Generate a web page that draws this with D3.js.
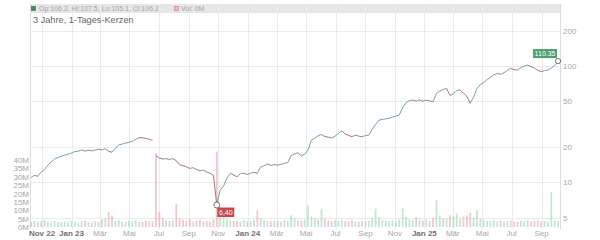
<!DOCTYPE html>
<html>
<head>
<meta charset="utf-8">
<script src="https://cdn.jsdelivr.net/npm/d3@7"></script>
<style>
  body { margin: 0; background: #fff; }
  svg { display: block; font-family: "Liberation Sans", Arial, sans-serif; }
</style>
</head>
<body>
<div id="chart"></div>
<script>
// weekly closes, first week starting 2022-10-09
const firstWeek = "2022-10-09";
const closes = [
  11.0, 11.5, 11.3, 12.3, 12.9, 14.1, 15.0, 15.9, 16.4, 16.8,
  17.2, 17.5, 17.9, 18.4, 18.6, 19.0, 18.6, 18.9, 18.7, 19.0,
  19.3, 19.0, 19.5, 18.5, 18.2, 19.8, 21.0, 21.4, 21.8, 22.1,
  22.6, 23.4, 24.3, 24.2, 23.9, 23.5, 23.0, 17.0, 16.2, 15.9,
  16.0, 15.8, 16.0, 15.4, 14.2, 13.9, 13.6, 13.2, 13.4, 12.9,
  12.6, 12.8, 12.3, 12.0, 11.5, 6.40, 8.6, 9.3, 10.9, 12.0,
  11.6, 11.2, 11.9, 12.0, 11.7, 12.0, 12.2, 12.0, 13.6, 13.9,
  14.4, 14.0, 14.2, 14.1, 14.3, 14.6, 14.8, 17.0, 17.6, 18.0,
  16.9, 17.5, 19.0, 23.1, 24.0, 25.2, 25.8, 24.8, 24.5, 24.1,
  25.0, 26.5, 27.8, 26.0, 25.4, 24.7, 25.5, 25.0, 24.7, 25.3,
  25.5, 28.5, 31.5, 34.3, 34.8, 35.2, 35.5, 36.5, 37.0, 37.9,
  44.0, 48.5, 50.5, 51.0, 50.0, 51.2, 49.8, 51.0, 50.2, 49.3,
  58.2, 61.0, 63.0, 64.3, 56.0, 57.5, 61.5, 62.2, 58.5, 55.0,
  47.8, 54.4, 64.0, 69.5, 72.0, 76.5, 80.0, 84.0, 86.5, 85.0,
  87.5, 92.0, 95.5, 93.0, 92.4, 97.0, 100.0, 102.0, 98.6, 96.0,
  92.0, 89.3, 91.5, 92.4, 96.0, 101.0, 110.35
];
// volume in millions, same weeks
const volumes = [
  3.2, 3.8, 2.9, 3.5, 4.2, 3.1, 2.8, 3.6, 3.0, 2.7,
  3.3, 2.9, 3.8, 3.1, 2.6, 3.4, 3.9, 3.0, 2.8, 3.5,
  3.2, 4.6, 5.2, 9.0, 6.8, 3.7, 4.1, 3.3, 3.0, 3.6,
  3.4, 4.0, 3.1, 2.9, 3.7, 3.2, 3.5, 44.0, 9.0, 5.5,
  4.2, 3.6, 4.0, 14.0, 5.0, 4.4, 3.8, 4.9, 3.5, 3.9,
  4.2, 3.3, 3.7, 3.1, 4.5, 45.0, 12.0, 6.5, 5.0, 4.3,
  3.6, 3.9, 3.2, 4.1, 3.4, 3.8, 4.6, 10.0, 5.2, 4.0,
  3.7, 3.3, 3.9, 3.5, 3.1, 4.2, 3.6, 7.0, 5.1, 4.0,
  3.8, 4.4, 13.0, 6.2, 5.0, 4.5, 11.0, 4.8, 3.9, 3.4,
  4.1, 3.6, 4.3, 3.5, 3.2, 4.0, 3.3, 3.0, 3.6, 3.2,
  3.8, 5.5, 11.0, 5.8, 4.2, 3.7, 3.4, 3.9, 3.2, 4.3,
  11.0, 6.0, 4.6, 4.0, 6.0, 4.4, 3.8, 4.5, 3.6, 5.5,
  16.0, 7.0, 5.2, 4.8, 7.0, 6.5, 8.0, 5.0, 6.2, 6.8,
  8.5, 5.5, 10.0, 5.0, 4.2, 3.8, 3.5, 4.0, 3.3, 3.7,
  3.1, 3.5, 3.9, 3.2, 3.0, 3.6, 3.3, 3.8, 3.1, 3.4,
  3.9, 3.2, 3.6, 3.0, 21.0, 4.0, 3.5
];
const haltAfter = 36;          // trading halt: no line between week 36 and 37
const priceTicks = [5, 10, 20, 50, 100, 200];
const volTicks = [0, 5, 10, 15, 20, 25, 30, 35, 40];
const monthNames = ["Jan", "Feb", "Mär", "Apr", "Mai", "Jun", "Jul", "Aug", "Sep", "Okt", "Nov", "Dez"];
const titleText = "3 Jahre, 1-Tages-Kerzen";
const ohlcText = "Op:106.2, Hi:107.5, Lo:105.1, Cl:106.2";
const volText = "Vol: 0M";
const lastLabel = "110.35";
const lowLabel = "6,40";

const width = 600, height = 240;
const plotLeft = 30, plotRight = 560, plotTop = 4, plotBottom = 229;

const upColour = "#5e9a74";
const downColour = "#9e5a5f";
const gridColour = "#ebebeb";
const textGrey = "#a6a6a6";

const start = d3.timeParse("%Y-%m-%d")(firstWeek);
const data = closes.map(function(c, i) {
  return { date: d3.timeWeek.offset(start, i), close: c, vol: volumes[i] };
});

const x = d3.scaleTime()
  .domain([new Date(2022, 9, 7), new Date(2025, 9, 9)])
  .range([plotLeft, plotRight]);
const y = d3.scaleLog().domain([5, 200]).range([217.5, 31]);
const yVol = d3.scaleLinear().domain([0, 40]).range([227, 160]);

const svg = d3.select("#chart").append("svg")
  .attr("width", width)
  .attr("height", height);

// legend strip
svg.append("rect")
  .attr("x", plotLeft).attr("y", plotTop)
  .attr("width", plotRight - plotLeft).attr("height", 9)
  .attr("fill", "#e6e6e6");

// grid
const monthTicks = x.ticks(d3.timeMonth.every(2));
svg.append("g").selectAll("line")
  .data(monthTicks)
  .enter().append("line")
  .attr("x1", function(d) { return Math.round(x(d)) + 0.5; })
  .attr("x2", function(d) { return Math.round(x(d)) + 0.5; })
  .attr("y1", plotTop).attr("y2", plotBottom)
  .attr("stroke", gridColour);

svg.append("g").selectAll("line")
  .data(priceTicks)
  .enter().append("line")
  .attr("x1", plotLeft).attr("x2", plotRight)
  .attr("y1", function(d) { return Math.round(y(d)) + 0.5; })
  .attr("y2", function(d) { return Math.round(y(d)) + 0.5; })
  .attr("stroke", gridColour);

// frame
svg.append("line").attr("x1", plotLeft + 0.5).attr("x2", plotLeft + 0.5)
  .attr("y1", plotTop).attr("y2", plotBottom).attr("stroke", "#dcdcdc");
svg.append("line").attr("x1", plotRight + 0.5).attr("x2", plotRight + 0.5)
  .attr("y1", plotTop).attr("y2", plotBottom).attr("stroke", "#dcdcdc");

// legend text
svg.append("rect").attr("x", 31.5).attr("y", 6.5).attr("width", 4).attr("height", 4)
  .attr("fill", "#3f8f5f").attr("stroke", "#2f6f4a").attr("stroke-width", 0.6);
svg.append("text").attr("x", 39).attr("y", 11.3)
  .attr("font-size", 7).attr("fill", textGrey).text(ohlcText);
svg.append("rect").attr("x", 174.5).attr("y", 6.5).attr("width", 4).attr("height", 4)
  .attr("fill", "#f0b8c0").attr("stroke", "#c57a86").attr("stroke-width", 0.6);
svg.append("text").attr("x", 181).attr("y", 11.3)
  .attr("font-size", 7).attr("fill", textGrey).text(volText);

svg.append("text").attr("x", 33).attr("y", 23)
  .attr("font-size", 9.2).attr("fill", "#666").text(titleText);

// volume bars
const barW = 1.8;
svg.append("g").selectAll("rect")
  .data(data)
  .enter().append("rect")
  .attr("x", function(d) { return x(d.date) - barW / 2; })
  .attr("width", barW)
  .attr("y", function(d) { return yVol(d.vol); })
  .attr("height", function(d) { return yVol(0) - yVol(d.vol); })
  .attr("fill", function(d, i) {
    return (i > 0 && d.close >= data[i - 1].close) ? "#9fd4b0" : "#eaa3ae";
  })
  .attr("opacity", 0.6);

// price line, coloured per segment
const segs = d3.pairs(data).filter(function(p, i) { return i !== haltAfter; });
svg.append("g").selectAll("line")
  .data(segs)
  .enter().append("line")
  .attr("x1", function(p) { return x(p[0].date); })
  .attr("y1", function(p) { return y(p[0].close); })
  .attr("x2", function(p) { return x(p[1].date); })
  .attr("y2", function(p) { return y(p[1].close); })
  .attr("stroke", function(p) { return p[1].close >= p[0].close ? upColour : downColour; })
  .attr("stroke-width", 0.85);

// right price axis
svg.append("g").selectAll("text")
  .data(priceTicks)
  .enter().append("text")
  .attr("x", 563)
  .attr("y", function(d) { return y(d) + 3; })
  .attr("font-size", 8).attr("fill", textGrey)
  .text(function(d) { return d; });

// left volume axis
svg.append("g").selectAll("text")
  .data(volTicks)
  .enter().append("text")
  .attr("x", 29)
  .attr("y", function(d) { return yVol(d) + 3; })
  .attr("text-anchor", "end")
  .attr("font-size", 8).attr("fill", textGrey)
  .text(function(d) { return d + "M"; });

// month axis
svg.append("g").selectAll("text")
  .data(monthTicks)
  .enter().append("text")
  .attr("x", function(d) { return x(d); })
  .attr("y", 236)
  .attr("text-anchor", "middle")
  .attr("font-size", 8)
  .attr("font-weight", function(d, i) { return (d.getMonth() === 0 || i === 0) ? "bold" : "normal"; })
  .attr("fill", function(d, i) { return (d.getMonth() === 0 || i === 0) ? "#707070" : textGrey; })
  .text(function(d, i) {
    const m = monthNames[d.getMonth()];
    return (d.getMonth() === 0 || i === 0) ? m + " " + d3.timeFormat("%y")(d) : m;
  });

// last price marker
const last = data[data.length - 1];
svg.append("rect")
  .attr("x", x(last.date) - 25).attr("y", y(last.close) - 12)
  .attr("width", 24).attr("height", 9)
  .attr("fill", "#4f9e72");
svg.append("text")
  .attr("x", x(last.date) - 13).attr("y", y(last.close) - 4.8)
  .attr("text-anchor", "middle").attr("font-size", 7).attr("fill", "#fff")
  .text(lastLabel);
svg.append("circle")
  .attr("cx", x(last.date)).attr("cy", y(last.close)).attr("r", 2.6)
  .attr("fill", "#fff").attr("stroke", "#555").attr("stroke-width", 0.8);

// low marker
const low = data[d3.minIndex(data, function(d) { return d.close; })];
svg.append("rect")
  .attr("x", x(low.date) + 0.5).attr("y", y(low.close) + 2.5)
  .attr("width", 17).attr("height", 9.5)
  .attr("fill", "#c9474c");
svg.append("text")
  .attr("x", x(low.date) + 9).attr("y", y(low.close) + 10)
  .attr("text-anchor", "middle").attr("font-size", 7).attr("fill", "#fff")
  .text(lowLabel);
svg.append("circle")
  .attr("cx", x(low.date)).attr("cy", y(low.close)).attr("r", 3)
  .attr("fill", "#fff").attr("stroke", "#555").attr("stroke-width", 0.8);
</script>
</body>
</html>
